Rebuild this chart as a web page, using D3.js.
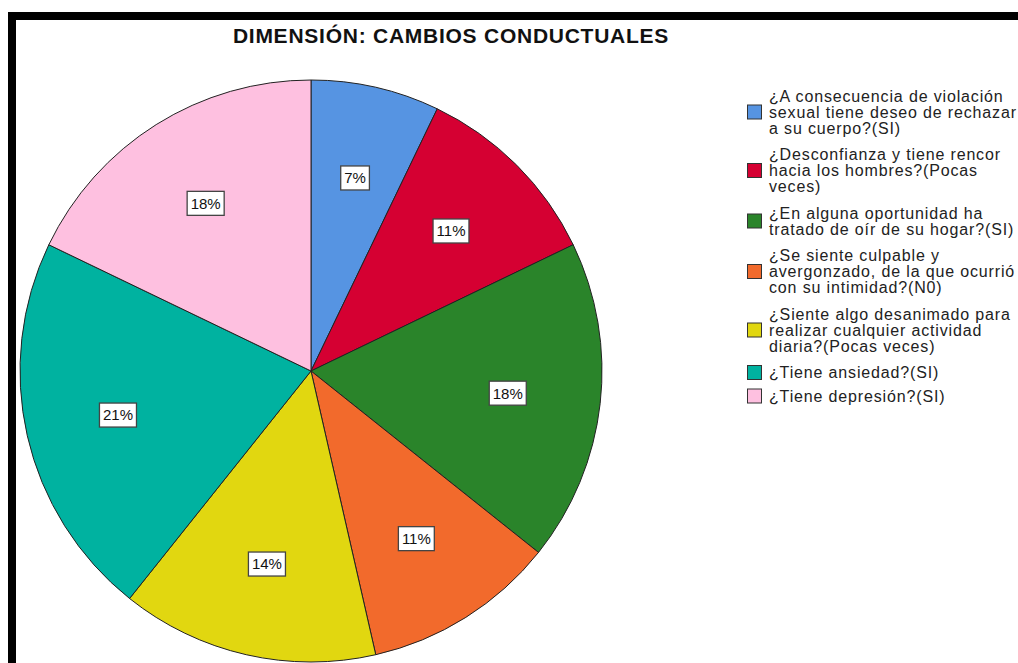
<!DOCTYPE html>
<html>
<head>
<meta charset="utf-8">
<script src="https://cdn.jsdelivr.net/npm/d3@7"></script>
<style>
  body { margin: 0; background: #fff; }
  svg { display: block; }
</style>
</head>
<body>
<svg id="chart" width="1018" height="663"></svg>
<script>
// data (counts out of 28 give 7/11/18/11/14/21/18 %)
var categories = [
  ['¿A consecuencia de violación', 'sexual tiene deseo de rechazar', 'a su cuerpo?(SI)'],
  ['¿Desconfianza y tiene rencor', 'hacia los hombres?(Pocas', 'veces)'],
  ['¿En alguna oportunidad ha', 'tratado de oír de su hogar?(SI)'],
  ['¿Se siente culpable y', 'avergonzado, de la que ocurrió', 'con su intimidad?(N0)'],
  ['¿Siente algo desanimado para', 'realizar cualquier actividad', 'diaria?(Pocas veces)'],
  ['¿Tiene ansiedad?(SI)'],
  ['¿Tiene depresión?(SI)']
];
var counts = [2, 3, 5, 3, 4, 6, 5];
var percentLabels = ['7%', '11%', '18%', '11%', '14%', '21%', '18%'];
var colors = ['#5694E2', '#D50032', '#2A842A', '#F26A2C', '#E1D710', '#00B2A0', '#FEC0E0'];
var title = 'DIMENSIÓN: CAMBIOS CONDUCTUALES';

var svg = d3.select('#chart');
var font = 'Liberation Sans, Arial, sans-serif';

// black frame top and left
svg.append('rect').attr('x', 8).attr('y', 12).attr('width', 1010).attr('height', 8).attr('fill', '#000');
svg.append('rect').attr('x', 8).attr('y', 12).attr('width', 8).attr('height', 651).attr('fill', '#000');

svg.append('text')
  .attr('x', 451).attr('y', 43)
  .attr('text-anchor', 'middle')
  .style('font-family', font)
  .style('font-weight', 'bold')
  .style('font-size', '21px')
  .style('letter-spacing', '0.75px')
  .attr('fill', '#111')
  .text(title);

var cx = 311, cy = 371, R = 291;
var pie = d3.pie().sort(null).value(function (d) { return d; });
var arcs = pie(counts);
var arc = d3.arc().innerRadius(0).outerRadius(R);
var labelArc = d3.arc().innerRadius(198).outerRadius(198);

var g = svg.append('g').attr('transform', 'translate(' + cx + ',' + cy + ')');

g.selectAll('path.slice')
  .data(arcs)
  .enter().append('path')
  .attr('class', 'slice')
  .attr('d', arc)
  .attr('fill', function (d, i) { return colors[i]; })
  .attr('stroke', '#222')
  .attr('stroke-width', 1);

var labels = g.selectAll('g.lbl')
  .data(arcs)
  .enter().append('g')
  .attr('class', 'lbl')
  .attr('transform', function (d) { return 'translate(' + labelArc.centroid(d) + ')'; });

labels.append('text')
  .attr('text-anchor', 'middle')
  .attr('dy', '0.36em')
  .style('font-family', font)
  .style('font-size', '15px')
  .attr('fill', '#111')
  .text(function (d, i) { return percentLabels[i]; });

labels.each(function () {
  var grp = d3.select(this);
  var bb = grp.select('text').node().getBBox();
  grp.insert('rect', 'text')
    .attr('x', bb.x - 3.5).attr('y', -12)
    .attr('width', bb.width + 7).attr('height', 24)
    .attr('fill', '#fff')
    .attr('stroke', '#444')
    .attr('stroke-width', 1.3);
});

// legend
var lineH = 16;
var ly = 101.5;
var legend = svg.append('g');
categories.forEach(function (lines, i) {
  var item = legend.append('g').attr('transform', 'translate(0,' + ly + ')');
  var mid = (lines.length - 1) / 2 * lineH - 5.5;
  item.append('rect')
    .attr('x', 747.5).attr('y', mid - 7)
    .attr('width', 14).attr('height', 14)
    .attr('fill', colors[i])
    .attr('stroke', '#333')
    .attr('stroke-width', 1);
  item.selectAll('text')
    .data(lines)
    .enter().append('text')
    .attr('x', 769)
    .attr('y', function (d, j) { return j * lineH; })
    .style('font-family', font)
    .style('font-size', '16px')
    .style('letter-spacing', '0.85px')
    .attr('fill', '#222')
    .text(function (d) { return d; });
  ly += lines.length * lineH + (lines.length > 1 ? 10.5 : 7.5);
});
</script>
</body>
</html>
